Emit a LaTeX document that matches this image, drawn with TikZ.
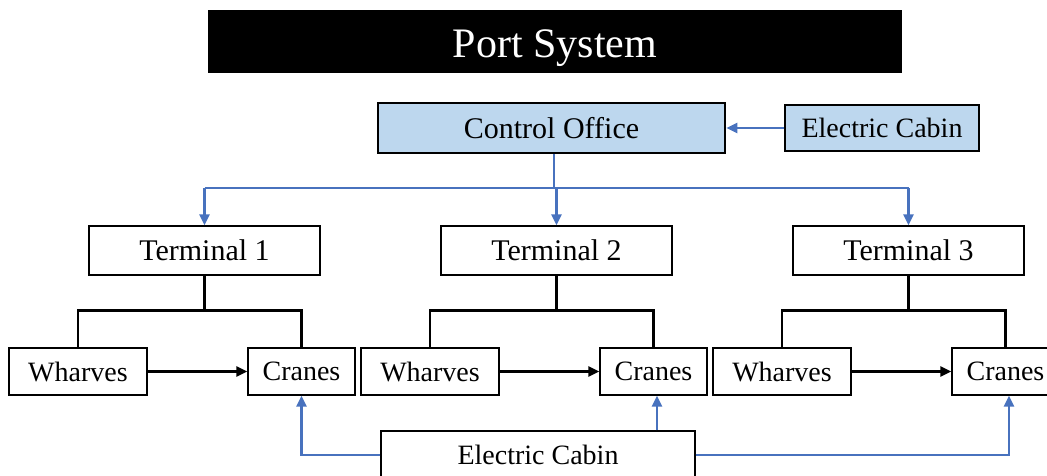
\documentclass[tikz,border=0pt]{standalone}
\usepackage{fontspec}
\setmainfont{Liberation Serif}
\usetikzlibrary{arrows.meta}
\definecolor{lblue}{RGB}{189,215,238}
\definecolor{lnblue}{RGB}{72,114,190}
\begin{document}
\begin{tikzpicture}[x=1pt,y=-1pt,
  box/.style={draw=black,line width=1.3pt,fill=white,inner sep=0pt,font=\fontsize{28}{32}\selectfont},
  bline/.style={draw=lnblue,line width=2.3pt},
  barrow/.style={bline,-{Triangle[length=11pt,width=10pt]}},
  kline/.style={draw=black,line width=2.6pt},
  karrow/.style={kline,-{Triangle[length=11pt,width=10pt]}}]
\useasboundingbox (0,0) rectangle (1047,476);
\node[fill=black,minimum width=694pt,minimum height=63pt,inner sep=0pt,text=white,text height=32pt,text depth=0pt,font=\fontsize{42}{46}\selectfont] (title) at (555,41.5) {Port System};
\node[box,fill=lblue,line width=2.6pt,minimum width=347pt,minimum height=50pt,font=\fontsize{30}{34}\selectfont] (office) at (551.5,128) {Control Office};
\node[box,fill=lblue,minimum width=194pt,minimum height=46pt] (ect) at (882,128) {Electric Cabin};
\foreach \i/\x in {1/204.5,2/556.5,3/908.5}{
  \node[box,minimum width=231pt,minimum height=49pt,font=\fontsize{30}{34}\selectfont] (T\i) at (\x,250.5) {Terminal \i};
}
\foreach \i/\w/\c in {1/78/301.5,2/430/653.5,3/782/1005.5}{
  \node[box,minimum width=138pt,minimum height=47pt] (W\i) at (\w,371.5) {Wharves};
  \node[box,minimum width=107pt,minimum height=47pt] (C\i) at (\c,371.5) {Cranes};
  \draw[kline] (T\i.south) -- ++(0,35) coordinate (m\i);
  \draw[kline] (W\i.north) |- (m\i) -| (C\i.north);
  \draw[karrow] (W\i.east) -- (C\i.west);
}
\node[box,minimum width=314pt,minimum height=48pt] (ecb) at (538,455) {Electric Cabin};
% top blue connectors
\draw[barrow] (ect.west) -- (office.east);
\coordinate (j) at (554,188);
\draw[bline] (office.south -| j) -- (j);
\draw[bline] (j -| T1.north) -- (j -| T3.north);
\foreach \i in {1,2,3}{\draw[barrow] (j -| T\i.north) -- (T\i.north);}
% bottom blue connectors
\draw[barrow] (ecb.west) -| (C1.south);
\coordinate (c2x) at (657,0);
\draw[barrow] (ecb.north -| c2x) -- (C2.south -| c2x);
\coordinate (c3x) at (1009,0);
\draw[barrow] (ecb.east) -| (C3.south -| c3x);
\end{tikzpicture}
\end{document}
